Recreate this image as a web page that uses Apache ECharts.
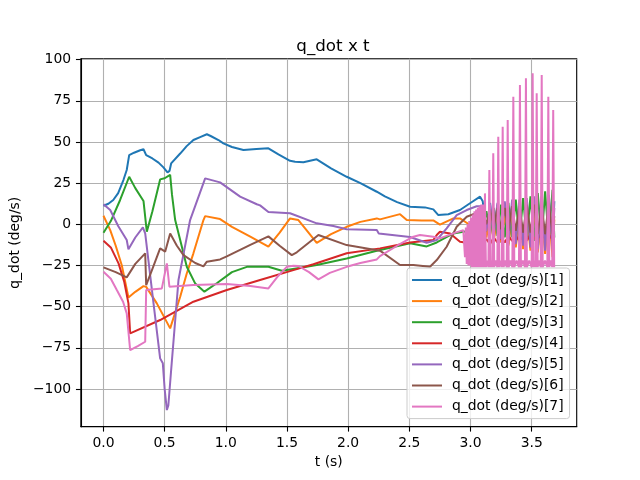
<!DOCTYPE html>
<html>
<head>
<meta charset="utf-8">
<script src="https://cdn.jsdelivr.net/npm/echarts@6.0.0/dist/echarts.min.js"></script>
<style>
  html, body { margin: 0; padding: 0; background: #fff; }
  #chart1 { width: 640px; height: 480px; }
</style>
</head>
<body>
<div id="chart1"></div>
<script>
// 数据: [t (s), q_dot (deg/s)]
var q1 = [[0,11.3],[0.04,12.5],[0.08,14.8],[0.12,19],[0.163,26.9],[0.19,33],[0.21,42],[0.25,43.5],[0.3,45],[0.327,45.6],[0.34,44.5],[0.349,42],
  [0.4,40],[0.45,37.5],[0.49,34.6],[0.523,31.6],[0.54,32.5],[0.553,37],[0.627,43],[0.68,47.5],[0.735,51.2],[0.79,53],[0.845,54.7],[0.88,53.5],
  [0.94,51.2],[0.98,49.2],[1.05,47],[1.144,45.1],[1.25,45.8],[1.348,46.2],[1.43,42.5],[1.525,38.6],[1.566,38],[1.634,37.7],[1.743,39.5],
  [1.86,34],[1.988,28.9],[2.1,25],[2.234,19.8],[2.3,17],[2.4,13.5],[2.506,10.7],[2.628,10.3],[2.696,9.1],[2.737,5.6],[2.819,6.1],[2.914,8.7],
  [2.996,12.8],[3.078,16.8],[3.10,14],[3.13,-6],[3.16,13],[3.19,-9],[3.22,12],[3.25,-11],[3.28,12],[3.31,-12],[3.34,12],[3.37,-13],[3.40,13],
  [3.43,-13],[3.46,13],[3.49,-14],[3.52,14],[3.55,-15],[3.58,14],[3.61,-14],[3.64,15],[3.67,-12],[3.685,14]];

var q2 = [[0,5.2],[0.055,-3.5],[0.1,-13],[0.15,-25],[0.204,-44.4],[0.26,-41],[0.327,-37.5],[0.349,-38],[0.436,-48],[0.545,-63.2],[0.627,-44],
  [0.68,-30],[0.735,-17.6],[0.817,2.6],[0.831,5.0],[0.953,3.2],[1.05,-1.5],[1.2,-7.5],[1.348,-13.6],[1.44,-5],[1.525,3.6],[1.593,2.6],
  [1.648,-2.4],[1.743,-11.2],[1.86,-6],[1.988,-1.5],[2.1,1.5],[2.234,3.6],[2.26,3],[2.424,6.2],[2.479,2.6],[2.6,2.4],[2.696,2.4],[2.75,-0.2],
  [2.86,3.6],[2.914,3.6],[2.996,-0.4],[3.06,-1],[3.10,2],[3.13,-8],[3.16,4],[3.19,-10],[3.22,5],[3.25,-11],[3.28,5],[3.31,-13],[3.34,6],
  [3.37,-14],[3.40,6],[3.43,-15],[3.46,7],[3.49,-16],[3.52,7],[3.55,-17],[3.58,7],[3.61,-18],[3.64,8],[3.67,-20],[3.685,3]];

var q3 = [[0,-5.1],[0.06,2],[0.136,14.8],[0.21,28.9],[0.26,22],[0.327,14.2],[0.34,15],[0.354,-4.5],[0.4,8],[0.463,27.3],[0.5,28],[0.545,30],
  [0.56,18],[0.586,2.6],[0.627,-9.5],[0.681,-25.8],[0.75,-36],[0.825,-40.9],[0.926,-35.8],[1.05,-29],[1.172,-25.8],[1.348,-25.8],[1.458,-28.2],
  [1.6,-26.5],[1.743,-24.7],[1.988,-20.7],[2.234,-16],[2.506,-11.5],[2.642,-13.4],[2.724,-11],[2.86,-5.5],[2.941,-4.5],[3.02,-4],[3.07,-3],
  [3.10,-3],[3.13,8],[3.16,-6],[3.19,10],[3.22,-7],[3.25,12],[3.28,-8],[3.31,13],[3.34,-8],[3.37,15],[3.40,-9],[3.43,16],[3.46,-9],[3.49,17],
  [3.52,-10],[3.55,19],[3.58,-10],[3.61,20],[3.64,-10],[3.67,21],[3.685,-8]];

var q4 = [[0,-10],[0.06,-14],[0.123,-23.7],[0.17,-35],[0.204,-48],[0.218,-66.2],[0.463,-58.1],[0.735,-47],[1.008,-39.9],[1.28,-33.8],
  [1.552,-27.8],[1.716,-24.2],[1.988,-17.6],[2.26,-14.6],[2.506,-11],[2.696,-9.5],[2.724,-6.5],[2.75,-4.5],[2.833,-5.5],[2.914,-10.6],
  [2.969,-11.2],[3.05,-11.5],[3.10,-12],[3.13,-9],[3.16,-12],[3.19,-8],[3.22,-11],[3.25,-8],[3.28,-11],[3.31,-7],[3.34,-10],[3.37,-7],
  [3.40,-10],[3.43,-7],[3.46,-10],[3.49,-6],[3.52,-9],[3.55,-6],[3.58,-9],[3.61,-6],[3.64,-9],[3.67,-6],[3.685,-8]];

var q5 = [[0,12.2],[0.055,8.7],[0.12,-1],[0.19,-9.5],[0.204,-15.2],[0.26,-8],[0.322,-1.8],[0.341,-5.5],[0.409,-48],[0.463,-81.4],[0.485,-84.4],
  [0.5,-100],[0.518,-112.8],[0.53,-110],[0.553,-88.5],[0.613,-33.8],[0.708,2.6],[0.831,27.9],[0.953,25.5],[1.117,16.8],[1.253,12.2],
  [1.28,11.5],[1.348,7.5],[1.525,6.7],[1.743,0.6],[1.879,-1],[1.988,-3],[2.234,-3.5],[2.25,-5.5],[2.506,-7.7],[2.642,-11.2],[2.724,-9.5],
  [2.805,-2.4],[2.887,5.6],[2.969,8.7],[3.05,11],[3.10,11],[3.13,-4],[3.16,12],[3.19,-7],[3.22,13],[3.25,-9],[3.28,14],[3.31,-10],[3.34,15],
  [3.37,-12],[3.40,15],[3.43,-13],[3.46,16],[3.49,-14],[3.52,17],[3.55,-15],[3.58,17],[3.61,-16],[3.64,18],[3.67,-15],[3.685,10]];

var q6 = [[0,-26.1],[0.1,-29],[0.19,-32.2],[0.26,-24],[0.341,-17.6],[0.349,-36.9],[0.4,-27],[0.463,-14.6],[0.504,-16.6],[0.545,-5.5],
  [0.6,-13],[0.654,-18.7],[0.75,-23.5],[0.817,-25.5],[0.845,-22.7],[0.953,-21.3],[1.008,-19.5],[1.2,-12.5],[1.348,-7.3],[1.44,-13],
  [1.539,-18.7],[1.58,-17],[1.757,-6.5],[1.988,-12.6],[2.26,-16],[2.424,-24.7],[2.533,-24.7],[2.669,-25.8],[2.724,-21.7],[2.805,-13.6],
  [2.887,-1.5],[2.969,4.6],[3.078,7.7],[3.10,8],[3.13,0],[3.16,9],[3.19,-2],[3.22,10],[3.25,-3],[3.28,10],[3.31,-4],[3.34,11],[3.37,-4],
  [3.40,11],[3.43,-5],[3.46,12],[3.49,-5],[3.52,12],[3.55,-6],[3.58,12],[3.61,-6],[3.64,13],[3.67,-6],[3.685,5]];

var q7 = [[0,-28.8],[0.06,-33],[0.109,-39.9],[0.16,-47],[0.19,-54.1],[0.218,-76.4],[0.28,-74],[0.341,-71.3],[0.349,-39.9],[0.477,-38.9],
  [0.518,-23.7],[0.539,-37.9],[0.735,-36.9],[1.008,-36.3],[1.2,-37.5],[1.348,-38.9],[1.42,-32],[1.498,-25.8],[1.552,-25.1],[1.593,-25.3],
  [1.68,-29],[1.757,-33.4],[1.85,-29.5],[1.988,-25.8],[2.1,-23.5],[2.234,-21.3],[2.26,-19.3],[2.4,-13],[2.533,-7.5],[2.587,-6.5],[2.696,-7.5],
  [2.75,-8.5],[2.86,-5.5],[2.941,-3.5],
  [2.955,-20],[2.962,-2],[2.969,-24],[2.976,0],[2.983,-25],[2.99,2],[2.997,-25],[3.004,4],[3.011,-26],[3.018,6],[3.025,-26],[3.032,8],
  [3.039,-26],[3.046,9],[3.053,-26],[3.06,10],[3.067,-26],[3.074,11],[3.081,-26],[3.088,12],[3.095,-26],[3.102,12],[3.109,-26],
  [3.113,-24],[3.118,18.8],[3.126,-26],[3.136,-22],[3.146,-26],[3.154,33],[3.162,-26],[3.17,-22],[3.178,-26],[3.186,43.1],[3.194,-26],
  [3.206,-22],[3.219,-26],[3.227,53.2],[3.235,-26],[3.245,-22],[3.255,-26],[3.263,59.3],[3.271,-26],[3.283,-22],[3.296,-26],[3.304,63.4],
  [3.312,-26],[3.327,-22],[3.342,-26],[3.35,77.5],[3.358,-26],[3.377,-22],[3.396,-26],[3.404,84.6],[3.412,-26],[3.428,-22],[3.445,-26],
  [3.453,88.7],[3.461,-26],[3.48,-22],[3.5,-26],[3.508,91.7],[3.516,-26],[3.525,-22],[3.533,-26],[3.541,79.6],[3.549,-26],[3.561,-22],
  [3.574,-26],[3.582,90.7],[3.59,-26],[3.609,-22],[3.628,-26],[3.636,77.5],[3.644,-26],[3.656,-22],[3.668,-26],[3.676,69.4],[3.684,-26]];

var seriesNames = ['q_dot (deg/s)[1]', 'q_dot (deg/s)[2]', 'q_dot (deg/s)[3]', 'q_dot (deg/s)[4]',
  'q_dot (deg/s)[5]', 'q_dot (deg/s)[6]', 'q_dot (deg/s)[7]'];
var seriesData = [q1, q2, q3, q4, q5, q6, q7];

var xTicks = [0, 0.5, 1, 1.5, 2, 2.5, 3, 3.5];
var yTicks = [-100, -75, -50, -25, 0, 25, 50, 75, 100];

var colors = ['#1f77b4', '#ff7f0e', '#2ca02c', '#d62728', '#9467bd', '#8c564b', '#e377c2'];
var font = 'DejaVu Sans';

var mychart = echarts.init(document.getElementById('chart1'));

var ss = [];
for (var i = 0; i < seriesData.length; i++) {
    ss.push({
        name: seriesNames[i],
        type: 'line',
        data: seriesData[i],
        symbol: 'none',
        showSymbol: false,
        lineStyle: { width: 2 },
        emphasis: { disabled: true }
    });
}

function minus(v) {
    return String(v).replace('-', '\u2212');
}

var option = {
    animation: false,
    color: colors,
    title: {
        text: 'q_dot x t',
        left: 328,
        top: 33,
        textAlign: 'center',
        textStyle: { fontFamily: font, fontSize: 16.7, fontWeight: 'normal', color: '#000' }
    },
    grid: {
        left: 80.7,
        right: 63.3,
        top: 58.7,
        bottom: 53.3,
        show: true,
        borderColor: '#000',
        borderWidth: 1.1,
        backgroundColor: 'transparent'
    },
    legend: {
        data: seriesNames,
        orient: 'vertical',
        left: 407,
        top: 268,
        padding: [4, 6, 4, 5],
        itemGap: 5.1,
        itemWidth: 30,
        itemHeight: 2,
        icon: 'rect',
        backgroundColor: 'rgba(255,255,255,0.8)',
        borderColor: '#cccccc',
        borderWidth: 1,
        borderRadius: 3,
        textStyle: { fontFamily: font, fontSize: 13.9, color: '#000', lineHeight: 16, padding: [0, 0, 0, 5] }
    },
    xAxis: {
        type: 'value',
        min: -0.185,
        max: 3.868,
        name: 't (s)',
        nameLocation: 'middle',
        nameGap: 29,
        nameTextStyle: { fontFamily: font, fontSize: 13.9, color: '#000' },
        axisLine: { show: true, onZero: false, lineStyle: { color: '#000', width: 1.1 } },
        axisTick: { show: true, length: 4.9, customValues: xTicks, lineStyle: { color: '#000', width: 1.1 } },
        axisLabel: {
            customValues: xTicks,
            margin: 9.8,
            fontFamily: font, fontSize: 13.9, color: '#000',
            formatter: function (v) { return minus(v.toFixed(1)); }
        },
        splitLine: { show: true, lineStyle: { color: '#b0b0b0', width: 1.1 } }
    },
    yAxis: {
        type: 'value',
        min: -122.9,
        max: 100.6,
        name: 'q_dot (deg/s)',
        nameLocation: 'middle',
        nameGap: 56,
        nameTextStyle: { fontFamily: font, fontSize: 13.9, color: '#000' },
        axisLine: { show: true, onZero: false, lineStyle: { color: '#000', width: 1.1 } },
        axisTick: { show: true, length: 4.9, customValues: yTicks, lineStyle: { color: '#000', width: 1.1 } },
        axisLabel: {
            customValues: yTicks,
            margin: 9.8,
            fontFamily: font, fontSize: 13.9, color: '#000',
            formatter: function (v) { return minus(v); }
        },
        splitLine: { show: true, lineStyle: { color: '#b0b0b0', width: 1.1 } }
    },
    series: ss
};

mychart.setOption(option);
</script>
</body>
</html>
